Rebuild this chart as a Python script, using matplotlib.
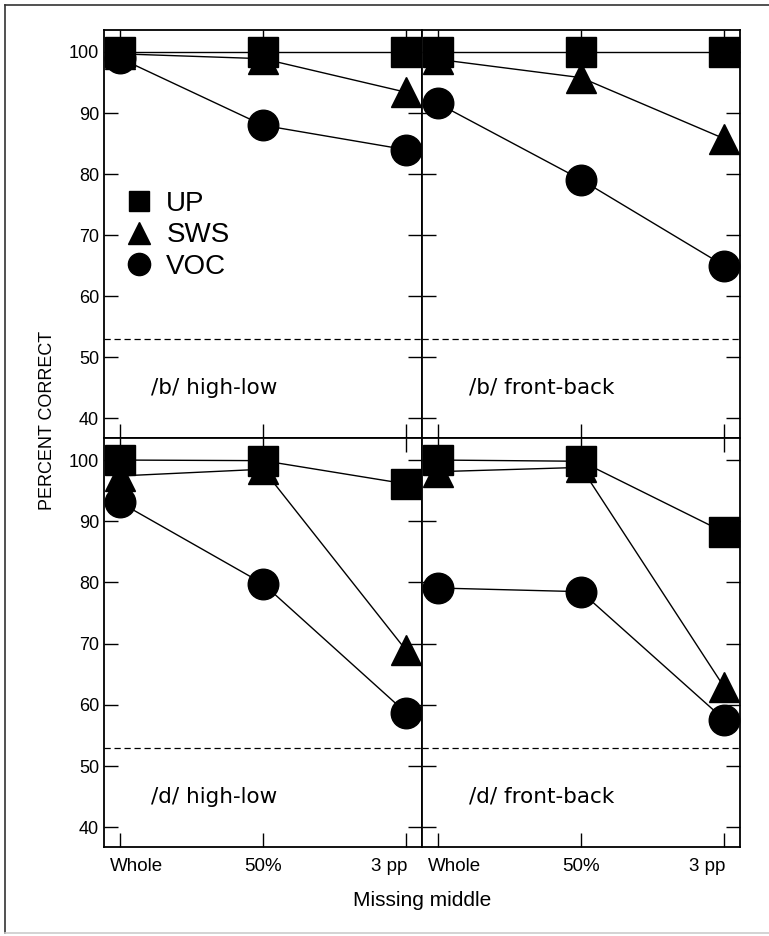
import matplotlib.pyplot as plt
import matplotlib.transforms as mtransforms
from matplotlib.lines import Line2D

plt.rcParams['font.family'] = ['Liberation Sans', 'DejaVu Sans']

# 数据
conditions = ['Whole', '50%', '3 pp']
panel_titles = ['/b/ high-low', '/b/ front-back', '/d/ high-low', '/d/ front-back']

up_vals = [
    [100, 100, 100],
    [100, 100, 100],
    [100, 99.9, 96.1],
    [100, 99.8, 88.2],
]
sws_vals = [
    [99.7, 98.9, 93.4],
    [98.8, 95.8, 85.8],
    [97.4, 98.5, 68.9],
    [98.1, 98.8, 62.9],
]
voc_vals = [
    [99.0, 88.0, 84.0],
    [91.6, 79.1, 65.0],
    [93.1, 79.8, 58.7],
    [79.1, 78.5, 57.6],
]
chance = 53

W, H = 769, 936
fig = plt.figure(figsize=(W / 100, H / 100), dpi=100)

# 外框
fig.add_artist(Line2D([5 / W, 5 / W], [1 - 5 / H, 1 - 933 / H], color='#333333', lw=1.2))
fig.add_artist(Line2D([5 / W, 1], [1 - 5 / H, 1 - 5 / H], color='#333333', lw=1.2))
fig.add_artist(Line2D([5 / W, 1], [1 - 933 / H, 1 - 933 / H], color='#cccccc', lw=1.2))

x0, xm, x1 = 104, 422, 740
y0, ym, y1 = 30, 438, 847
boxes = [
    (x0, y0, xm, ym), (xm, y0, x1, ym),
    (x0, ym, xm, y1), (xm, ym, x1, y1),
]

xs = list(range(len(conditions)))
for i, (l, t, r, b) in enumerate(boxes):
    ax = fig.add_axes([l / W, 1 - b / H, (r - l) / W, (b - t) / H])
    ax.plot(xs, up_vals[i], color='black', lw=1.0, marker='s', ms=21, zorder=3)
    ax.plot(xs, sws_vals[i], color='black', lw=1.0, marker='^', ms=22, zorder=3)
    ax.plot(xs, voc_vals[i], color='black', lw=1.0, marker='o', ms=22, zorder=3)
    ax.axhline(chance, color='black', lw=0.9, ls=(0, (5, 3)))
    ax.text(0.22, 45, panel_titles[i], fontsize=15.5, va='center', ha='left',
            family='DejaVu Sans')

    ax.set_xlim(-0.11, 2.11)
    ax.set_ylim(36.8, 103.6)
    ax.set_xticks(xs)
    ax.set_yticks(range(40, 101, 10))
    ax.tick_params(direction='in', top=True, right=True, length=10, width=1.0,
                   labelsize=13)
    ax.tick_params(axis='x', pad=8, labelsize=13.5)
    for sp in ax.spines.values():
        sp.set_linewidth(1.3)
    if i % 2 == 0:
        ax.set_yticklabels([str(v) for v in range(40, 101, 10)])
    else:
        ax.set_yticklabels([])
    if i >= 2:
        ax.set_xticklabels(conditions)
        labs = ax.get_xticklabels()
        labs[0].set_ha('left')
        labs[0].set_transform(labs[0].get_transform() +
                              mtransforms.ScaledTranslation(-0.10, 0, fig.dpi_scale_trans))
        labs[2].set_ha('right')
        labs[2].set_transform(labs[2].get_transform() +
                              mtransforms.ScaledTranslation(0.01, 0, fig.dpi_scale_trans))
    else:
        ax.set_xticklabels([])

    if i == 0:
        handles = [
            Line2D([], [], color='black', ls='none', marker='s', ms=15),
            Line2D([], [], color='black', ls='none', marker='^', ms=16),
            Line2D([], [], color='black', ls='none', marker='o', ms=16),
        ]
        ax.legend(handles, ['UP', 'SWS', 'VOC'], loc='upper left',
                  bbox_to_anchor=(0.03, 0.64), frameon=False, fontsize=20,
                  handlelength=0.8, handletextpad=0.6, labelspacing=0.2,
                  borderpad=0)

fig.text(48 / W, 1 - 420 / H, 'PERCENT CORRECT', rotation=90, fontsize=13,
         ha='center', va='center')
fig.text((x0 + x1) / 2 / W, 1 - 900 / H, 'Missing middle', fontsize=15,
         ha='center', va='center')

plt.savefig('out.png', dpi=100)
